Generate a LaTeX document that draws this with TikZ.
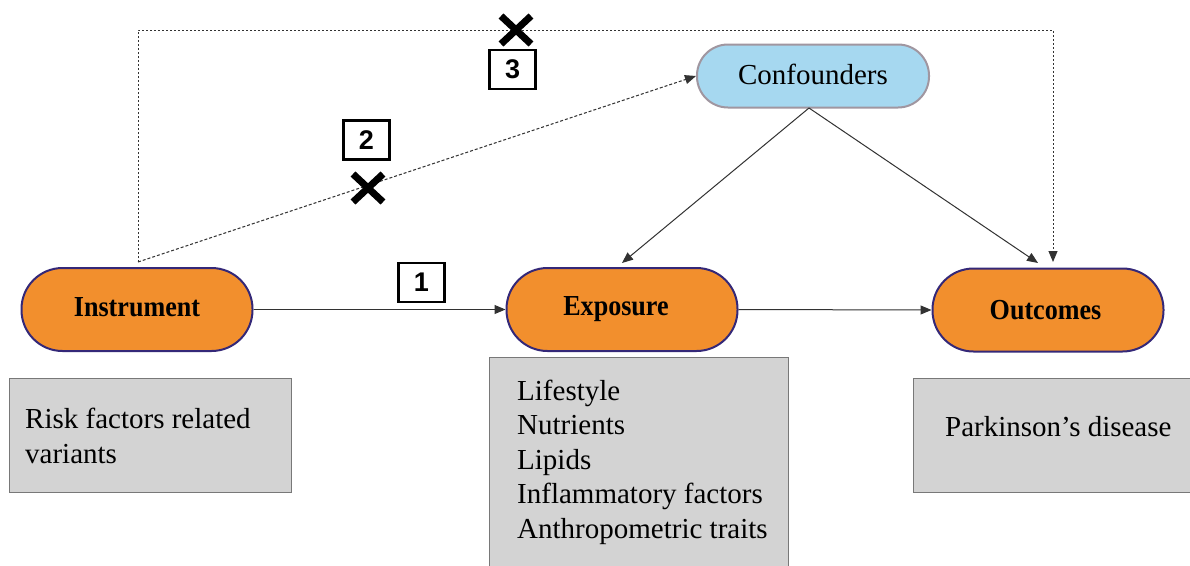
\documentclass[tikz,border=0pt]{standalone}
\usepackage{fontspec}
\setmainfont{Liberation Serif}
\newfontfamily\numfont{Liberation Sans}
\newfontfamily\condbold[FakeStretch=0.9]{Liberation Serif Bold}
\usetikzlibrary{arrows.meta}
\definecolor{pillorange}{RGB}{242,143,45}
\definecolor{pillborder}{RGB}{52,40,120}
\definecolor{confblue}{RGB}{166,216,240}
\definecolor{confborder}{RGB}{160,150,160}
\definecolor{boxgray}{RGB}{211,211,211}
\definecolor{boxborder}{RGB}{120,120,120}
\definecolor{linegray}{RGB}{50,50,50}
\tikzset{
  pill/.style={draw=pillborder, line width=2pt, fill=pillorange, rounded corners=41pt,
    minimum width=231pt, minimum height=83pt, inner sep=0pt,
    font=\condbold\fontsize{29}{32}\selectfont},
  confpill/.style={draw=confborder, line width=2pt, fill=confblue, rounded corners=31pt,
    minimum width=232pt, minimum height=63pt, inner sep=0pt,
    font=\fontsize{29}{32}\selectfont},
  graybox/.style={draw=boxborder, line width=1.2pt, fill=boxgray, anchor=north west, inner sep=0pt},
  boxtext/.style={anchor=west, align=left, inner sep=0pt, font=\fontsize{29}{34.5}\selectfont},
  numbox/.style={draw=black, line width=2.2pt, minimum width=46pt, minimum height=39pt,
    inner sep=0pt, font=\numfont\bfseries\fontsize{27}{28}\selectfont},
  solidarrow/.style={draw=linegray, line width=1pt, -{Triangle[length=11pt,width=9pt]}},
  dasharrow/.style={draw=linegray, line width=1pt, dash pattern=on 3pt off 2pt, -{Triangle[length=11pt,width=9pt]}},
  dotarrow/.style={draw=linegray, line width=0.9pt, dash pattern=on 2pt off 2pt, -{Triangle[length=11pt,width=9pt]}},
  crossmark/.style={draw=black, line width=7pt}
}
\begin{document}
\begin{tikzpicture}[x=1pt,y=-1pt]
\useasboundingbox[fill=white] (0,0) rectangle (1190,565);

% gray boxes
\node[graybox, minimum width=282pt, minimum height=114pt] (b1) at (9,378) {};
\node[graybox, minimum width=299pt, minimum height=215pt] (b2) at (489,357) {};
\node[graybox, minimum width=285pt, minimum height=114pt] (b3) at (913,378) {};
\node[boxtext] (t1) at (25,436) {Risk factors related\\variants};
\node[boxtext] (t2) at (517,462) {Lifestyle\\Nutrients\\Lipids\\Inflammatory factors\\Anthropometric traits};
\node[boxtext] (t3) at (945,427) {Parkinson’s disease};

% main nodes
\node[pill] (ins) at (137,309.5) {\raisebox{5pt}{Instrument}};
\node[pill] (exp) at (622,309.5) {\hspace*{-12pt}\raisebox{5pt}{Exposure}};
\node[pill] (out) at (1048,310) {\hspace*{-5pt}\raisebox{1pt}{Outcomes}};
\node[confpill] (conf) at (813,76) {\raisebox{3pt}{Confounders}};

% coordinates
\coordinate (c0) at (138,262);
\coordinate (t1c) at (138,30);
\coordinate (t2c) at (1053,30);
\coordinate (e3) at (1053,262);
\coordinate (cb) at (809,108);
\coordinate (e1) at (622,263);
\coordinate (e2) at (1038,263);

% arrows
\draw[solidarrow] (ins.east) -- (exp.west);
\draw[solidarrow] (exp.east) -- (out.west);
\draw[solidarrow] (cb) -- (e1);
\draw[solidarrow] (cb) -- (e2);
\draw[dasharrow] (c0) -- (conf.west);
\draw[dotarrow] (c0) -- (t1c) -- (t2c) -- (e3);

% number boxes
\node[numbox] (n1) at (421.5,282.5) {1};
\node[numbox] (n2) at (366.5,140) {2};
\node[numbox] (n3) at (512.5,69.5) {3};

% crosses
\node[inner sep=0pt, minimum size=0pt] (x3) at (516,30) {};
\node[inner sep=0pt, minimum size=0pt] (x2) at (368,188) {};
\draw[crossmark] ([shift={(-15,-14)}]x3.center) -- ([shift={(15,14)}]x3.center)
  ([shift={(-15,14)}]x3.center) -- ([shift={(15,-14)}]x3.center);
\draw[crossmark] ([shift={(-15,-14)}]x2.center) -- ([shift={(15,14)}]x2.center)
  ([shift={(-15,14)}]x2.center) -- ([shift={(15,-14)}]x2.center);
\end{tikzpicture}
\end{document}
